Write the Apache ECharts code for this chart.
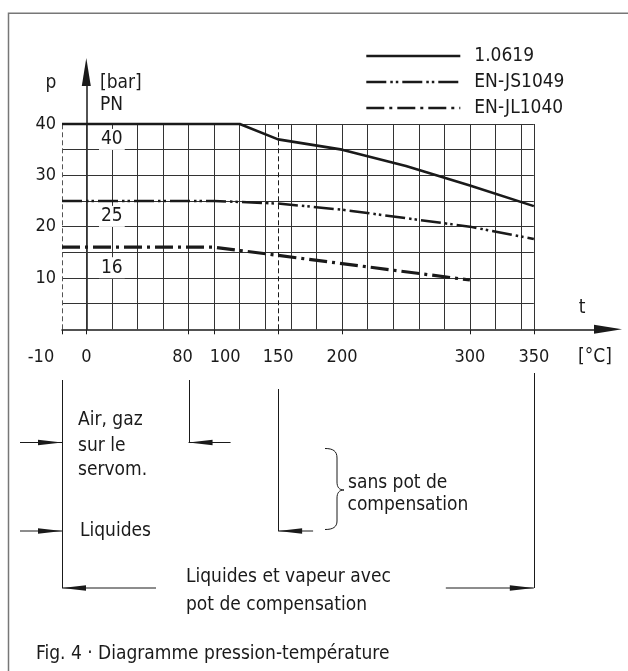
<!DOCTYPE html>
<html><head><meta charset="utf-8">
<script src="https://cdn.jsdelivr.net/npm/echarts@6/dist/echarts.min.js"></script>
<style>html,body{margin:0;padding:0;background:#fff}#c{width:628px;height:671px}</style>
</head><body><div id="c"></div>
<script>
// ---------- data ----------
const seriesNames = ['1.0619', 'EN-JS1049', 'EN-JL1040'];
const temps_1_0619 = [-10, 120, 150, 200, 250, 300, 350];
const pres_1_0619  = [40, 40, 37, 35, 31.8, 28, 24];
const temps_JS1049 = [-10, 100, 150, 200, 300, 350];
const pres_JS1049  = [25, 25, 24.5, 23.3, 20, 17.6];
const temps_JL1040 = [-10, 100, 150, 200, 300];
const pres_JL1040  = [16, 16, 14.4, 12.8, 9.6];
const xTickLabels = [-10, 0, 80, 100, 150, 200, 300, 350];
const yTickLabels = [10, 20, 30, 40];
const gridTemps = [0, 20, 40, 60, 80, 100, 120, 140, 160, 180, 200, 220, 240, 260, 280, 300, 320, 340, 350];
const gridPress = [5, 10, 15, 20, 25, 30, 35, 40];
const dashedTemps = [-10, 150];
const pnLabels = ['40', '25', '16'];
const pnLabelPress = [37, 22, 12];
const pnLabelTemp = 20;

// ---------- styles / layout ----------
const FONT = '"DejaVu Sans Condensed", "DejaVu Sans", sans-serif';
const INK = '#1a1a1a';
const NEG = 1.9;                 // the -10..0 segment is drawn stretched
const xp = t => t < 0 ? t * NEG : t;
const xTickPos = xTickLabels.map(xp);
const labelShift = { '-10': -21, '80': -6, '100': 11 };

function pts(ts, ps) { return ts.map((t, i) => [xp(t), ps[i]]); }

const rich = {};
xTickLabels.forEach((t, i) => {
  const s = labelShift[String(t)] || 0;
  rich['k' + i] = { fontSize: 18, fontFamily: FONT, color: INK,
    padding: s < 0 ? [0, -2 * s, 0, 0] : [0, 0, 0, 2 * s] };
});

const gridLines = [];
gridTemps.forEach(t => gridLines.push([{ coord: [xp(t), 0] }, { coord: [xp(t), 40] }]));
gridPress.forEach(p => gridLines.push([{ coord: [xp(-10), p] }, { coord: [xp(350), p] }]));
dashedTemps.forEach((t, i) => gridLines.push([
  { coord: [xp(t), 0], lineStyle: { type: [5, 3], color: i === 0 ? '#555' : INK, width: 1 } },
  { coord: [xp(t), 40] }]));

const chart = echarts.init(document.getElementById('c'));
const option = {
  animation: false,
  backgroundColor: '#fff',
  textStyle: { fontFamily: FONT },
  grid: { left: 62, right: 20, top: 72, bottom: 341.7 },
  xAxis: {
    type: 'value', min: xp(-10), max: 408,
    axisLine: { show: true, onZero: true, symbol: ['none', 'triangle'], symbolSize: [9, 28],
      lineStyle: { color: INK, width: 1.5 } },
    axisTick: { show: true, customValues: xTickPos, length: 5, lineStyle: { color: INK, width: 1 } },
    axisLabel: { show: true, customValues: xTickPos, margin: 19, fontSize: 18, color: INK, fontFamily: FONT,
      formatter: v => { const i = xTickPos.indexOf(v); return i < 0 ? '' : '{k' + i + '|' + xTickLabels[i] + '}'; },
      rich: rich },
    splitLine: { show: false }
  },
  yAxis: {
    type: 'value', min: 0, max: 50.13,
    axisLine: { show: true, onZero: true, symbol: ['none', 'triangle'], symbolSize: [9, 28],
      lineStyle: { color: INK, width: 1.5 } },
    axisTick: { show: false },
    axisLabel: { customValues: yTickLabels, margin: 6, fontSize: 18, color: INK, fontFamily: FONT },
    splitLine: { show: false }
  },
  legend: {
    orient: 'vertical', left: 365, top: 46.5, padding: 0, itemWidth: 94, itemHeight: 14, itemGap: 7,
    selectedMode: false, data: seriesNames,
    itemStyle: { opacity: 0 },
    lineStyle: { width: 2.6 },
    textStyle: { fontSize: 19, color: INK, fontFamily: FONT, padding: [0, 0, 0, 9] }
  },
  series: [
    { type: 'line', name: '_grid', data: [], silent: true, z: 1,
      markLine: { silent: true, symbol: ['none', 'none'], animation: false, label: { show: false },
        lineStyle: { color: '#333', width: 1, type: 'solid' }, data: gridLines },
      markPoint: { silent: true, symbol: 'rect', symbolSize: 0, animation: false,
        label: { show: true, position: 'inside', formatter: '{c}', fontSize: 19, color: INK, fontFamily: FONT,
          backgroundColor: '#fff', padding: [1, 2] },
        data: pnLabels.map((s, i) => ({ coord: [xp(pnLabelTemp), pnLabelPress[i]], value: s })) } },
    { type: 'line', name: seriesNames[0], data: pts(temps_1_0619, pres_1_0619), symbol: 'none', z: 5,
      lineStyle: { color: INK, width: 2.6, type: 'solid' } },
    { type: 'line', name: seriesNames[1], data: pts(temps_JS1049, pres_JS1049), symbol: 'none', z: 5,
      lineStyle: { color: INK, width: 2.5, type: [20, 4, 2.5, 3, 2.5, 4] } },
    { type: 'line', name: seriesNames[2], data: pts(temps_JL1040, pres_JL1040), symbol: 'none', z: 5,
      lineStyle: { color: INK, width: 3.2, type: [18, 5, 3, 5] } }
  ]
};
chart.setOption(option);

// ---------- annotations below the axis ----------
const px = t => chart.convertToPixel({ xAxisIndex: 0 }, xp(t));
const g = [];
g.push({ type: 'rect', shape: { x: 8.5, y: 13.3, width: 700, height: 700 }, silent: true,
  style: { fill: 'none', stroke: '#777', lineWidth: 1.5 } });
function seg(x1, y1, x2, y2) {
  g.push({ type: 'line', shape: { x1: x1, y1: y1, x2: x2, y2: y2 }, silent: true, style: { stroke: INK, lineWidth: 1 } });
}
function curve(x1, y1, c1x, c1y, c2x, c2y, x2, y2) {
  g.push({ type: 'bezierCurve', silent: true,
    shape: { x1: x1, y1: y1, cpx1: c1x, cpy1: c1y, cpx2: c2x, cpy2: c2y, x2: x2, y2: y2 },
    style: { fill: 'none', stroke: INK, lineWidth: 1 } });
}
function vline(t, y1, y2) {
  const x = Math.round(px(t)) + 0.5;
  seg(x, y1, x, y2);
}
function arrow(x1, x2, y) {
  const d = x2 > x1 ? 1 : -1;
  seg(x1, y, x2, y);
  g.push({ type: 'polygon', shape: { points: [[x2, y], [x2 - d * 24, y - 2.8], [x2 - d * 24, y + 2.8]] }, silent: true,
    style: { fill: INK } });
}
vline(-10, 380, 588);
vline(80, 380, 442.5);
vline(150, 389, 531);
vline(350, 373, 588);
arrow(20, px(-10), 442.5);
arrow(px(80) + 42, px(80), 442.5);
arrow(20, px(-10), 531);
arrow(px(150) + 35, px(150), 531);
arrow(px(-10) + 94, px(-10), 588);
arrow(px(350) - 88, px(350), 588);
// brace
curve(325, 448.5, 333, 448.5, 337, 451, 337, 458);
seg(337, 458, 337, 482);
curve(337, 482, 337, 487, 339, 490, 344, 490);
curve(344, 490, 339, 490, 337, 493, 337, 498);
seg(337, 498, 337, 521);
curve(337, 521, 337, 527, 333, 529.5, 325, 529.5);
function txt(s, x, y, align) {
  g.push({ type: 'text', silent: true, style: { text: s, x: x, y: y, align: align || 'left', verticalAlign: 'middle',
    font: '19px ' + FONT, fill: INK } });
}
txt('p', 51, 83, 'center');
txt('[bar]', 100, 83);
txt('PN', 100, 105);
txt('t', 582, 308, 'center');
txt('[°C]', 578, 357);
txt('Air, gaz', 78, 420);
txt('sur le', 78, 446);
txt('servom.', 78, 470.5);
txt('Liquides', 80, 531.5);
txt('sans pot de', 348, 483);
txt('compensation', 347.5, 505);
txt('Liquides et vapeur avec', 186, 577);
txt('pot de compensation', 186, 605);
txt('Fig. 4 · Diagramme pression-température', 36, 654);
chart.setOption({ graphic: g });
</script>
</body></html>
